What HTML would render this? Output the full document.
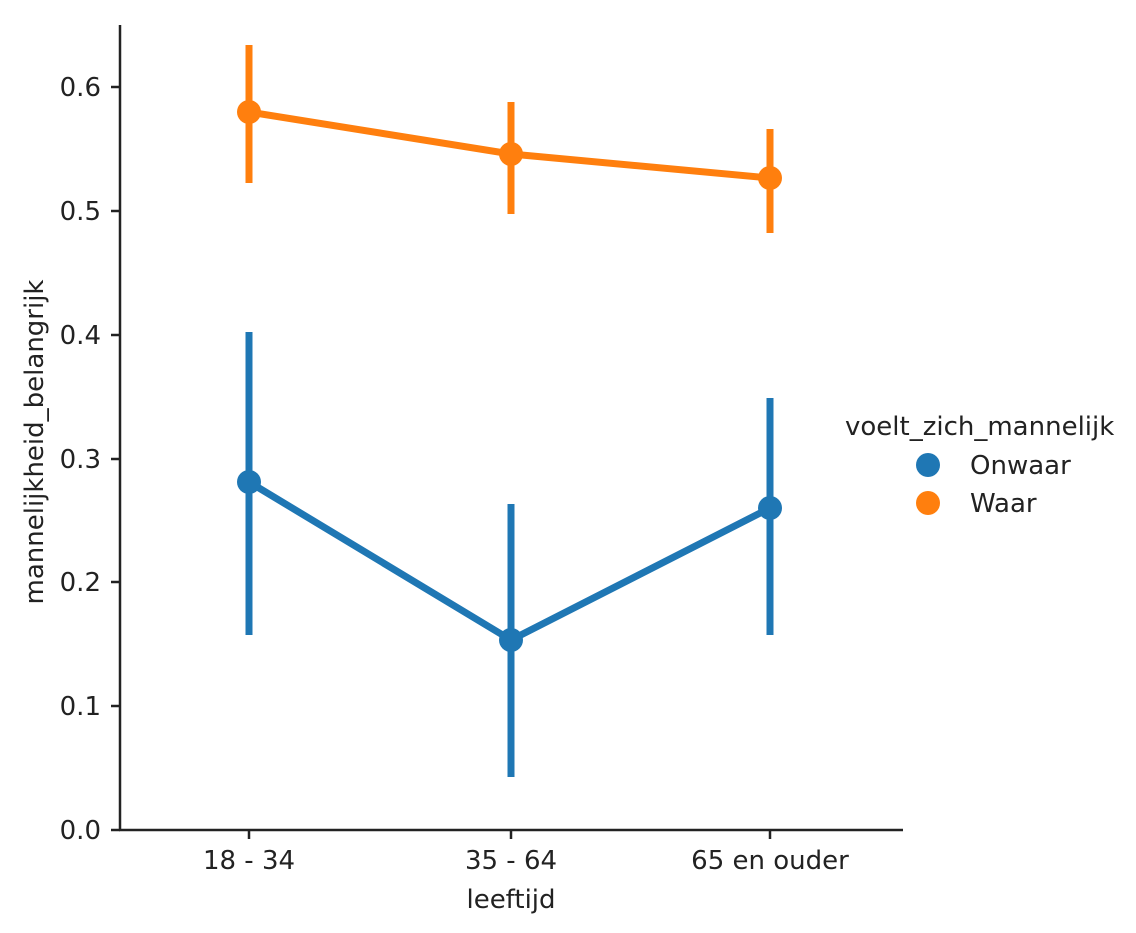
<!DOCTYPE html>
<html><head><style>body{margin:0;background:#fff}</style></head><body>
<svg width="1136" height="928" xmlns="http://www.w3.org/2000/svg" font-family="DejaVu Sans, Liberation Sans, sans-serif" font-size="26" fill="#222">
<line x1="120" y1="25" x2="120" y2="831" stroke="#222" stroke-width="2.5"/>
<line x1="119" y1="830" x2="903" y2="830" stroke="#222" stroke-width="2.5"/>
<g stroke="#222" stroke-width="2.5">
<line x1="111" y1="830" x2="120" y2="830"/><line x1="111" y1="706" x2="120" y2="706"/><line x1="111" y1="582" x2="120" y2="582"/><line x1="111" y1="459" x2="120" y2="459"/><line x1="111" y1="335" x2="120" y2="335"/><line x1="111" y1="211" x2="120" y2="211"/><line x1="111" y1="87" x2="120" y2="87"/>
<line x1="249" y1="830" x2="249" y2="839"/><line x1="511" y1="830" x2="511" y2="839"/><line x1="770" y1="830" x2="770" y2="839"/>
</g>
<g text-anchor="end">
<text x="101" y="839">0.0</text><text x="101" y="715">0.1</text><text x="101" y="591">0.2</text><text x="101" y="468">0.3</text><text x="101" y="344">0.4</text><text x="101" y="220">0.5</text><text x="101" y="96">0.6</text>
</g>
<g text-anchor="middle">
<text x="249" y="869">18 - 34</text><text x="511" y="869">35 - 64</text><text x="770" y="869">65 en ouder</text>
<text x="511" y="908">leeftijd</text>
<text transform="translate(43,442) rotate(-90)">mannelijkheid_belangrijk</text>
</g>
<g stroke="#ff7f0e" stroke-width="7" fill="#ff7f0e">
<line x1="249" y1="45" x2="249" y2="183"/><line x1="511" y1="102" x2="511" y2="214"/><line x1="770" y1="129" x2="770" y2="233"/>
<polyline points="249,112 511,154 770,178" fill="none"/>
<circle cx="249" cy="112" r="12" stroke="none"/><circle cx="511" cy="154" r="12" stroke="none"/><circle cx="770" cy="178" r="12" stroke="none"/>
</g>
<g stroke="#1f77b4" stroke-width="7" fill="#1f77b4">
<line x1="249" y1="332" x2="249" y2="635"/><line x1="511" y1="504" x2="511" y2="777"/><line x1="770" y1="398" x2="770" y2="635"/>
<polyline points="249,482 511,640 770,508" fill="none"/>
<circle cx="249" cy="482" r="12" stroke="none"/><circle cx="511" cy="640" r="12" stroke="none"/><circle cx="770" cy="508" r="12" stroke="none"/>
</g>
<text x="845" y="435">voelt_zich_mannelijk</text>
<circle cx="928" cy="465" r="12" fill="#1f77b4"/><text x="970" y="474">Onwaar</text>
<circle cx="928" cy="503" r="12" fill="#ff7f0e"/><text x="970" y="512">Waar</text>
</svg>
</body></html>
